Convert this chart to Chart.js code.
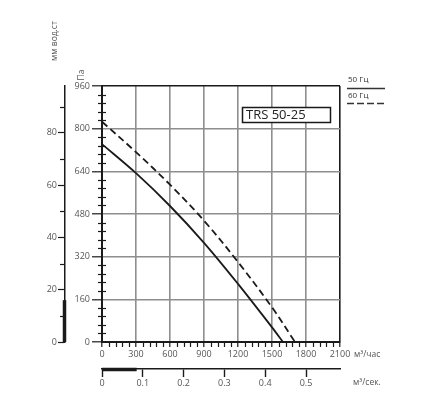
<!DOCTYPE html>
<html><head><meta charset="utf-8">
<script src="https://cdn.jsdelivr.net/npm/chart.js@4"></script>
<style>html,body{margin:0;padding:0;background:#fff}#wrap{width:427px;height:400px;position:relative}</style>
</head><body><div id="wrap"><canvas id="c"></canvas></div>
<script>
// Data
const flow50 = [0, 300, 600, 900, 1200, 1500, 1597];
const pa50   = [742, 633, 510, 372, 218, 55, 0];
const flow60 = [0, 300, 600, 900, 1200, 1500, 1703];
const pa60   = [826, 712, 590, 455, 300, 130, 0];

const paTicks   = [0, 160, 320, 480, 640, 800, 960];
const flowTicks = [0, 300, 600, 900, 1200, 1500, 1800, 2100];
const mmTicks   = [0, 20, 40, 60, 80];
const secTicks  = [0, 0.1, 0.2, 0.3, 0.4, 0.5];
const paMinorStep = 32, flowMinorStep = 60, mmMinorStep = 10;
const mmHighlight = [0, 16];
const secHighlight = [0, 0.085];

const seriesNames = ['50 Гц', '60 Гц'];
const modelName = 'TRS 50-25';
const paMax = 960, flowMax = 2100;
const PA_PER_MM = 9.80665;

const FONT = '"Open Sans", "DejaVu Sans", sans-serif';
const LBL = '#555';
const GRID = '#8e8e8e';
const INK = '#1a1a1a';

const pts = (xs, ys) => xs.map((x, i) => ({x, y: ys[i]}));
const setTicks = arr => s => { s.ticks = arr.map(v => ({value: v})); };
const plain = v => String(v);

const decor = {
  id: 'decor',
  afterDraw(chart) {
    const c = chart.ctx, a = chart.chartArea, s = chart.scales;
    c.save();
    c.strokeStyle = INK; c.lineWidth = 1.2;
    // minor ticks Pa
    for (let v = 0; v <= paMax; v += paMinorStep) {
      if (v % 160 === 0) continue;
      const y = Math.round(s.y.getPixelForValue(v)) + 0.5;
      c.beginPath(); c.moveTo(a.left - 4, y); c.lineTo(a.left + 4, y); c.stroke();
    }
    // minor ticks flow
    for (let v = 0; v <= flowMax; v += flowMinorStep) {
      if (v % 300 === 0) continue;
      const x = Math.round(s.x.getPixelForValue(v)) + 0.5;
      c.beginPath(); c.moveTo(x, a.bottom); c.lineTo(x, a.bottom + 5); c.stroke();
    }
    // minor ticks mm
    const mmX = s.y2.right;
    for (let v = mmMinorStep; v <= s.y2.max; v += 2 * mmMinorStep) {
      const y = Math.round(s.y2.getPixelForValue(v)) + 0.5;
      c.beginPath(); c.moveTo(mmX - 5, y); c.lineTo(mmX, y); c.stroke();
    }
    // thick highlight segments
    c.lineWidth = 3.5;
    c.beginPath();
    c.moveTo(mmX - 0.5, s.y2.getPixelForValue(mmHighlight[0]));
    c.lineTo(mmX - 0.5, s.y2.getPixelForValue(mmHighlight[1]));
    c.stroke();
    const secY = s.x2.top;
    c.beginPath();
    c.moveTo(s.x2.getPixelForValue(secHighlight[0]), secY + 0.5);
    c.lineTo(s.x2.getPixelForValue(secHighlight[1]), secY + 0.5);
    c.stroke();

    // axis titles
    c.fillStyle = LBL;
    c.font = '8.5px ' + FONT;
    c.textAlign = 'center'; c.textBaseline = 'middle';
    c.save(); c.translate(mmX - 10, 41); c.rotate(-Math.PI / 2); c.fillText('мм вод.ст', 0, 0); c.restore();
    c.save(); c.translate(a.left - 20, 75); c.rotate(-Math.PI / 2); c.fillText('Па', 0, 0); c.restore();
    // units
    c.font = '8.5px ' + FONT;
    c.textAlign = 'left';
    c.fillText('м³/час', a.right + 14, a.bottom + 13);
    c.fillText('м³/сек.', a.right + 13, s.x2.top + 14);

    // legend
    c.font = '8px ' + FONT;
    c.fillStyle = '#333';
    c.fillText(seriesNames[0], a.right + 8, a.top - 6);
    c.fillText(seriesNames[1], a.right + 8, a.top + 10);
    c.strokeStyle = '#333'; c.lineWidth = 1.5;
    c.beginPath(); c.moveTo(a.right + 7, a.top + 2.5); c.lineTo(a.right + 45, a.top + 2.5); c.stroke();
    c.setLineDash([7, 3]);
    c.beginPath(); c.moveTo(a.right + 7, a.top + 17.5); c.lineTo(a.right + 45, a.top + 17.5); c.stroke();
    c.setLineDash([]);

    // model box
    const bx = a.right - 98, by = a.top + 21, bw = 88, bh = 15;
    c.fillStyle = '#fff';
    c.fillRect(bx, by, bw, bh);
    c.strokeStyle = INK; c.lineWidth = 1.5;
    c.strokeRect(bx + 0.5, by + 0.5, bw, bh);
    c.fillStyle = '#222';
    c.font = '13px ' + FONT;
    c.textAlign = 'left'; c.textBaseline = 'middle';
    c.fillText(modelName, bx + 4, by + bh / 2 + 1);
    c.restore();
  }
};

const tickFont = {family: FONT, size: 9};
const edgeColor = (lo, hi) => ctx => (ctx.tick && (ctx.tick.value === lo || ctx.tick.value === hi)) ? INK : GRID;

new Chart(document.getElementById('c'), {
  type: 'line',
  data: {
    datasets: [
      {label: seriesNames[0], data: pts(flow50, pa50), borderColor: INK, borderWidth: 1.8,
       pointRadius: 0, tension: 0.35, fill: false},
      {label: seriesNames[1], data: pts(flow60, pa60), borderColor: INK, borderWidth: 1.8,
       borderDash: [7, 4], pointRadius: 0, tension: 0.35, fill: false}
    ]
  },
  options: {
    responsive: true, maintainAspectRatio: false, animation: false,
    layout: {padding: {left: 25, top: 86, right: 87, bottom: 9}},
    plugins: {legend: {display: false}, tooltip: {enabled: false}},
    scales: {
      x: {
        type: 'linear', position: 'bottom', min: 0, max: flowMax,
        afterBuildTicks: setTicks(flowTicks),
        afterFit: s => { s.height = 27; },
        ticks: {font: tickFont, color: LBL, padding: 2, maxRotation: 0, autoSkip: false, callback: plain},
        grid: {color: edgeColor(0, flowMax), lineWidth: 1.6, tickLength: 5, tickColor: INK, tickWidth: 1.2},
        border: {display: true, color: INK, width: 2}
      },
      x2: {
        type: 'linear', position: 'bottom', weight: 1, min: 0, max: flowMax / 3600,
        afterBuildTicks: setTicks(secTicks),
        afterFit: s => { s.height = 22; },
        ticks: {font: tickFont, color: LBL, padding: 1, maxRotation: 0, autoSkip: false, callback: plain},
        grid: {drawOnChartArea: false, tickLength: 8, tickColor: INK, tickWidth: 1.4},
        border: {display: true, color: INK, width: 1.5}
      },
      y: {
        type: 'linear', position: 'left', min: 0, max: paMax,
        afterBuildTicks: setTicks(paTicks),
        afterFit: s => { s.width = 37; },
        ticks: {font: tickFont, color: LBL, padding: 2, autoSkip: false, callback: plain},
        grid: {color: edgeColor(0, paMax), lineWidth: 1.6, tickLength: 10, tickColor: INK, tickWidth: 1.2},
        border: {display: true, color: INK, width: 2}
      },
      y2: {
        type: 'linear', position: 'left', weight: 1, min: 0, max: paMax / PA_PER_MM,
        afterBuildTicks: setTicks(mmTicks),
        afterFit: s => { s.width = 40; },
        ticks: {font: tickFont, color: LBL, padding: 1, autoSkip: false, callback: plain},
        grid: {drawOnChartArea: false, tickLength: 7, tickColor: INK, tickWidth: 1.2},
        border: {display: true, color: INK, width: 1.5}
      }
    }
  },
  plugins: [decor]
});
</script></body></html>
